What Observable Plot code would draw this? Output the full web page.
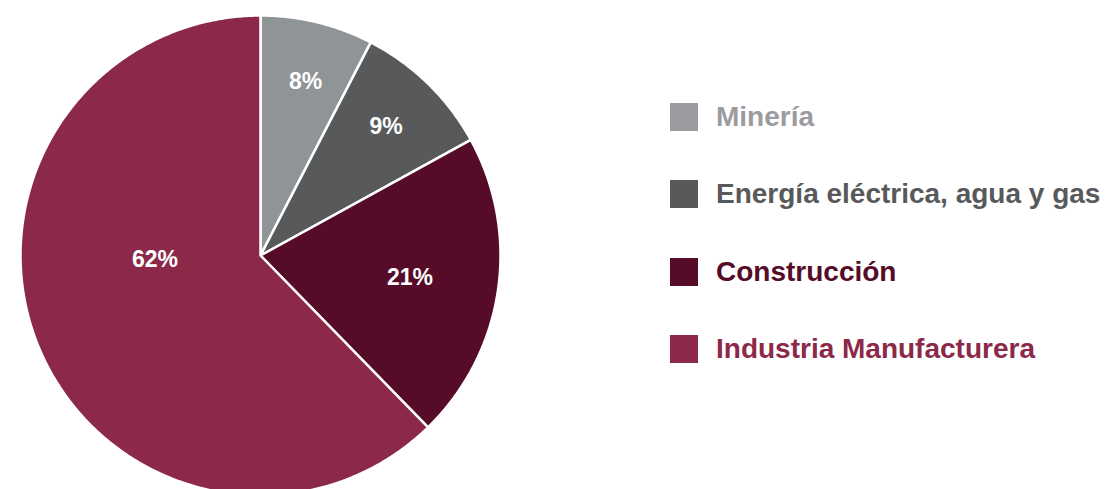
<!DOCTYPE html>
<html>
<head>
<meta charset="utf-8">
<script src="https://cdn.jsdelivr.net/npm/d3@7"></script>
<script src="https://cdn.jsdelivr.net/npm/@observablehq/plot@0.6"></script>
<style>
  html, body { margin: 0; padding: 0; background: #fff; }
  #wrap { position: relative; width: 1107px; height: 489px; overflow: hidden; }
  #legend { position: absolute; left: 670px; top: 0; }
  .row { position: absolute; left: 0; display: flex; align-items: center; white-space: nowrap;
         font-family: "Liberation Sans", Arial, sans-serif; font-weight: bold; font-size: 28px; }
  .sw { width: 28px; height: 28px; margin-right: 18px; flex: none; }
</style>
</head>
<body>
<div id="wrap"></div>
<script>
// ---- data ----
const categories = ["Minería", "Energía eléctrica, agua y gas", "Construcción", "Industria Manufacturera"];
const shares = [7.6, 9.4, 20.7, 62.3];
const labels = ["8%", "9%", "21%", "62%"];
const sliceColors = ["#8f9597", "#58595b", "#560b28", "#8c2949"];
const legendColors = ["#9b9c9f", "#58595b", "#560b28", "#8c2949"];

// label placement (fraction of radius, optional angle override in degrees)
const labelPlacement = [{r: 0.75, angle: 14.5}, {r: 0.75}, {r: 0.63}, {r: 0.44, angle: 268}];

const arcs = d3.pie().sort(null).value(d => d)(shares);

// arc polygons in unit-circle coordinates
const pts = [];
arcs.forEach((a, i) => {
  const key = categories[i];
  pts.push({key, x: 0, y: 0});
  const n = Math.max(8, Math.ceil((a.endAngle - a.startAngle) / (Math.PI / 360)));
  for (let k = 0; k <= n; k++) {
    const t = a.startAngle + (a.endAngle - a.startAngle) * k / n;
    pts.push({key, x: Math.sin(t), y: Math.cos(t)});
  }
  pts.push({key, x: 0, y: 0});
});

const labelData = arcs.map((a, i) => {
  const p = labelPlacement[i];
  const ang = p.angle != null ? p.angle * Math.PI / 180 : (a.startAngle + a.endAngle) / 2;
  return {text: labels[i], x: p.r * Math.sin(ang), y: p.r * Math.cos(ang)};
});

const chart = Plot.plot({
  width: 1107,
  height: 489,
  x: {domain: [-1, 1], range: [20, 500], axis: null},
  y: {domain: [-1, 1], range: [495, 15], axis: null},
  color: {domain: categories, range: sliceColors},
  marks: [
    Plot.line(pts, {x: "x", y: "y", z: "key", fill: "key", stroke: "white", strokeWidth: 2.5, strokeLinejoin: "round"}),
    Plot.text(labelData, {x: "x", y: "y", text: "text", fill: "white", fontSize: 23, fontWeight: "bold",
      fontFamily: "'Liberation Sans Narrow', 'Liberation Sans', Arial, sans-serif"})
  ]
});
chart.style.position = "absolute";
chart.style.left = "0px";
chart.style.top = "0px";
const wrap = document.getElementById("wrap");
wrap.appendChild(chart);

const legend = document.createElement("div");
legend.id = "legend";
categories.forEach((c, i) => {
  const row = document.createElement("div");
  row.className = "row";
  row.style.top = (100 + i * 77.3) + "px";
  row.style.height = "34px";
  const sw = document.createElement("div");
  sw.className = "sw";
  sw.style.background = legendColors[i];
  const tx = document.createElement("span");
  tx.textContent = c;
  tx.style.color = legendColors[i];
  row.appendChild(sw);
  row.appendChild(tx);
  legend.appendChild(row);
});
wrap.appendChild(legend);
</script>
</body>
</html>
